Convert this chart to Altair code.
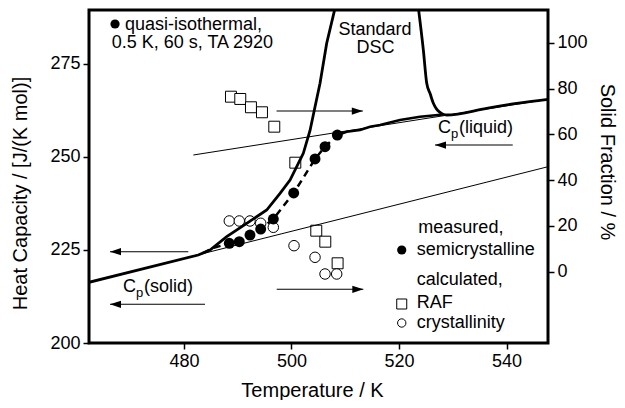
import altair as alt
import pandas as pd

FONT = "Liberation Sans"

# ---------------- data ----------------
# Standard DSC curve (left branch rising off the top, right branch coming down and along liquid Cp)
dsc_left_T = [462.33, 482.66, 484.84, 487.95, 491.67, 495.39, 497.87, 499.73, 502.20, 503.45, 504.38, 505.31, 506.55, 508.46]
dsc_left_cp = [216.30, 223.62, 224.97, 228.54, 232.13, 235.70, 240.19, 243.76, 250.93, 257.05, 263.44, 269.72, 280.46, 292.08]
dsc_right_T = [523.42, 524.53, 525.16, 525.80, 526.39, 527.00, 527.63, 528.19, 528.88, 536.32, 541.90, 547.72]
dsc_right_cp = [292.08, 278.66, 269.72, 266.90, 264.35, 262.80, 261.90, 261.40, 261.21, 263.01, 264.35, 265.42]

# quasi-isothermal measured heat capacity (filled circles)
qi_T = [488.43, 490.29, 492.28, 494.27, 496.62, 500.41, 504.38, 506.24, 508.53]
qi_cp = [226.77, 227.19, 228.99, 230.60, 233.29, 240.27, 249.40, 252.70, 255.84]
# dashed guide through the circles, and the solid continuation to the melt end
qi_dash_T = [483.54, 485.40] + qi_T
qi_dash_cp = [224.16, 225.50] + qi_cp
qi_tail_T = [508.53, 510.27, 512.75, 514.61, 516.47, 520.19, 523.91, 528.19]
qi_tail_cp = [255.84, 256.72, 257.18, 258.07, 258.52, 259.87, 260.75, 261.34]

# baselines
solid_T = [462.33, 547.72]
solid_cp = [216.30, 247.33]
liquid_T = [481.74, 547.72]
liquid_cp = [250.47, 265.42]

# calculated solid fractions (right axis, %)
raf_T = [488.74, 490.47, 492.46, 494.51, 496.80, 500.71, 504.61, 506.29, 508.58]
raf_sf = [76.45, 75.45, 71.83, 69.64, 63.35, 47.63, 17.94, 13.14, 3.70]
cry_T = [488.43, 490.29, 492.28, 494.27, 496.62, 500.47, 504.38, 506.24, 508.41]
cry_sf = [22.18, 22.18, 22.18, 21.17, 19.42, 11.39, 6.32, -0.97, -0.97]

# arrows: tail T, tip T, Cp level
arrow_tail = [497.22, 541.16, 480.80, 483.91, 497.25]
arrow_tip = [513.27, 526.70, 466.24, 466.24, 513.36]
arrow_cp = [262.28, 253.15, 224.51, 210.39, 214.42]

# annotation texts (left aligned)
lab_text = ["quasi-isothermal,", "0.5 K, 60 s, TA 2920", "measured,", "semicrystalline",
            "calculated,", "RAF", "crystallinity"]
lab_T = [469.03, 466.55, 523.60, 523.30, 523.30, 523.30, 523.30]
lab_cp = [285.37, 280.54, 230.87, 224.97, 216.91, 210.66, 205.45]
# centered texts
ctr_text = ["Standard", "DSC"]
ctr_T = [515.54, 515.65]
ctr_cp = [284.03, 279.19]
# Cp labels
cp_T = [527.26, 468.66]
cp_cp = [257.72, 215.03]
cp_suffix = ["(liquid)", "(solid)"]

# legend symbols
leg_fill_T = [467.17, 520.51]
leg_fill_cp = [285.64, 224.97]
leg_sq_T = [520.51]
leg_sq_cp = [210.47]
leg_oc_T = [520.51]
leg_oc_cp = [205.37]

x_ticks = [480, 500, 520, 540]
cp_ticks = [200, 225, 250, 275]
sf_ticks = [0, 20, 40, 60, 80, 100]

# ---------------- encodings ----------------
xscale = alt.Scale(domain=[462.33, 547.72], nice=False, zero=False)
xaxis = alt.Axis(values=x_ticks, title="Temperature / K", labelPadding=3,
                 titleX=223, titleY=53, titleBaseline="alphabetic", titleAlign="center")
cpscale = alt.Scale(domain=[200, 289.4], nice=False, zero=False)
cpaxis = alt.Axis(values=cp_ticks, title="Heat Capacity / [J/(K mol)]", orient="left",
                  labelPadding=3, titleX=-69, titleY=183, titleAngle=270,
                  titleBaseline="middle", titleAlign="center")
sfscale = alt.Scale(domain=[-31.1, 114.3], nice=False, zero=False)
sfaxis = alt.Axis(values=sf_ticks, title="Solid Fraction / %", orient="right",
                  labelPadding=3, titleX=58, titleY=151.5, titleAngle=90,
                  titleBaseline="middle", titleAlign="center")


def X(f="T"):
    return alt.X(f"{f}:Q", scale=xscale, axis=xaxis)


def YC(f="cp"):
    return alt.Y(f"{f}:Q", scale=cpscale, axis=cpaxis)


def YS(f="sf"):
    return alt.Y(f"{f}:Q", scale=sfscale, axis=sfaxis)


def df(**kw):
    return pd.DataFrame(kw)


# baselines
base_df = pd.concat([
    df(T=solid_T, cp=solid_cp, s="solid"),
    df(T=liquid_T, cp=liquid_cp, s="liquid"),
])
baselines = alt.Chart(base_df).mark_line(color="black", strokeWidth=1, clip=True).encode(
    x=X(), y=YC(), detail="s:N")

dsc_l = alt.Chart(df(T=dsc_left_T, cp=dsc_left_cp)).mark_line(
    color="black", strokeWidth=2.8, clip=True).encode(x=X(), y=YC())
dsc_r = alt.Chart(df(T=dsc_right_T, cp=dsc_right_cp)).mark_line(
    color="black", strokeWidth=2.8, clip=True, interpolate="monotone").encode(x=X(), y=YC())

qi_dash = alt.Chart(df(T=qi_dash_T, cp=qi_dash_cp)).mark_line(
    color="black", strokeWidth=2.5, strokeDash=[7, 5]).encode(x=X(), y=YC())
qi_tail = alt.Chart(df(T=qi_tail_T, cp=qi_tail_cp)).mark_line(
    color="black", strokeWidth=2.5).encode(x=X(), y=YC())

qi_pts = alt.Chart(df(T=qi_T, cp=qi_cp)).mark_circle(
    color="black", size=120, opacity=1).encode(x=X(), y=YC())

arrows = alt.Chart(df(T=arrow_tail, T2=arrow_tip, cp=arrow_cp)).mark_rule(
    color="black", strokeWidth=1.1).encode(x=X(), x2="T2:Q", y=YC())

dir_r = ["r" if b > a else "l" for a, b in zip(arrow_tail, arrow_tip)]
heads_df = df(T=arrow_tip, cp=arrow_cp, d=dir_r)
head_r = alt.Chart(heads_df[heads_df.d == "r"]).mark_point(
    shape="M0,0L-2,-0.66L-2,0.66Z", filled=True, color="black", size=121, opacity=1).encode(x=X(), y=YC())
head_l = alt.Chart(heads_df[heads_df.d == "l"]).mark_point(
    shape="M0,0L2,-0.66L2,0.66Z", filled=True, color="black", size=121, opacity=1).encode(x=X(), y=YC())

labels = alt.Chart(df(T=lab_T, cp=lab_cp, t=lab_text)).mark_text(
    font=FONT, fontSize=18, align="left", baseline="middle", color="black").encode(
    x=X(), y=YC(), text="t:N")
centers = alt.Chart(df(T=ctr_T, cp=ctr_cp, t=ctr_text)).mark_text(
    font=FONT, fontSize=18, align="center", baseline="middle", color="black").encode(
    x=X(), y=YC(), text="t:N")
cp_df = df(T=cp_T, cp=cp_cp, c=["C", "C"], p=["p", "p"], s=cp_suffix)
cp_c = alt.Chart(cp_df).mark_text(font=FONT, fontSize=18, align="left", baseline="middle",
                                  color="black").encode(x=X(), y=YC(), text="c:N")
cp_p = alt.Chart(cp_df).mark_text(font=FONT, fontSize=13, align="left", baseline="middle",
                                  dx=13, dy=6, color="black").encode(x=X(), y=YC(), text="p:N")
cp_s = alt.Chart(cp_df).mark_text(font=FONT, fontSize=18, align="left", baseline="middle",
                                  dx=21, color="black").encode(x=X(), y=YC(), text="s:N")

leg_fill = alt.Chart(df(T=leg_fill_T, cp=leg_fill_cp)).mark_circle(
    color="black", size=85, opacity=1).encode(x=X(), y=YC())
leg_sq = alt.Chart(df(T=leg_sq_T, cp=leg_sq_cp)).mark_point(
    shape="square", filled=False, color="black", size=100, strokeWidth=1, opacity=1).encode(x=X(), y=YC())
leg_oc = alt.Chart(df(T=leg_oc_T, cp=leg_oc_cp)).mark_point(
    shape="circle", filled=False, color="black", size=70, strokeWidth=1, opacity=1).encode(x=X(), y=YC())

left = alt.layer(baselines, dsc_l, dsc_r, qi_dash, qi_tail, qi_pts, arrows, head_r, head_l,
                 labels, centers, cp_c, cp_p, cp_s, leg_fill, leg_sq, leg_oc)

raf = alt.Chart(df(T=raf_T, sf=raf_sf)).mark_point(
    shape="square", filled=True, fill="white", stroke="black", strokeWidth=1, size=120, opacity=1).encode(
    x=X(), y=YS())
cry = alt.Chart(df(T=cry_T, sf=cry_sf)).mark_point(
    shape="circle", filled=True, fill="white", stroke="black", strokeWidth=1, size=110, opacity=1).encode(
    x=X(), y=YS())
right = alt.layer(raf, cry)

chart = alt.layer(right, left).resolve_scale(y="independent").properties(
    width=459, height=333,
    autosize=alt.AutoSizeParams(type="none"),
    padding={"left": 81, "top": 2, "right": 69, "bottom": 57},
    background="white",
).configure_view(stroke="black", strokeWidth=3).configure_axis(
    labelFont=FONT, titleFont=FONT, labelFontSize=18, titleFontSize=20,
    titleFontWeight="normal", labelColor="black", titleColor="black",
    tickColor="black", tickWidth=1.5, tickSize=6, grid=False, domain=False,
)

chart.save("out.html", embed_options={"renderer": "svg", "actions": False})
